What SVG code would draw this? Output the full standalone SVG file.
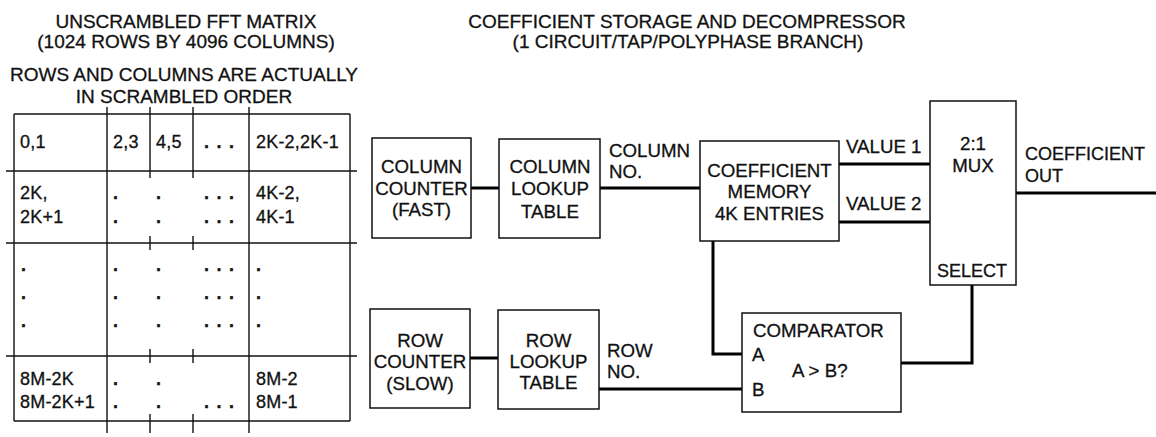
<svg xmlns="http://www.w3.org/2000/svg" width="1156" height="437" viewBox="0 0 1156 437">
  <style>
    text { font-family: "Liberation Sans", Arial, Helvetica, sans-serif; font-size: 18.7px; fill: #111; stroke: #111; stroke-width: 0.3; }
    .c { text-anchor: middle; }
    .head { font-size: 19px; }
    .tbl { font-size: 18px; letter-spacing: 0.2px; }
    .dot { font-size: 18px; font-weight: bold; }
    .dots { font-size: 18px; font-weight: bold; letter-spacing: 7.5px; }
    .sm { font-size: 18px; }
    .box { fill: #fff; stroke: #111; stroke-width: 1.5; }
    .grid line { stroke: #111; stroke-width: 1.4; }
    .wire { fill: none; stroke: #000; stroke-width: 3; stroke-linejoin: miter; }
  </style>
  <rect width="1156" height="437" fill="#fff"/>

  <!-- Left heading -->
  <g id="matrix-title">
    <text class="c head" x="186" y="28">UNSCRAMBLED FFT MATRIX</text>
    <text class="c head" x="186" y="48">(1024 ROWS BY 4096 COLUMNS)</text>
    <text class="c head" x="184" y="81">ROWS AND COLUMNS ARE ACTUALLY</text>
    <text class="c head" x="184" y="103">IN SCRAMBLED ORDER</text>
  </g>

  <!-- Scrambled FFT matrix grid -->
  <g id="matrix" class="grid">
    <!-- horizontal rules -->
    <line x1="14" y1="114" x2="350" y2="114"/>
    <line x1="6" y1="171" x2="357" y2="171"/>
    <line x1="6" y1="243" x2="357" y2="243"/>
    <line x1="6" y1="356" x2="357" y2="356"/>
    <line x1="14" y1="421" x2="350" y2="421"/>
    <!-- vertical rules -->
    <line x1="14" y1="114" x2="14" y2="421"/>
    <line x1="350" y1="114" x2="350" y2="421"/>
    <line x1="107" y1="107" x2="107" y2="433"/>
    <line x1="249" y1="107" x2="249" y2="433"/>
    <line x1="150" y1="107" x2="150" y2="178"/>
    <line x1="193" y1="107" x2="193" y2="178"/>
    <!-- tick marks where the inner columns cross the row rules -->
    <line x1="150" y1="236" x2="150" y2="250"/>
    <line x1="193" y1="236" x2="193" y2="250"/>
    <line x1="150" y1="349" x2="150" y2="363"/>
    <line x1="193" y1="349" x2="193" y2="363"/>
    <line x1="150" y1="414" x2="150" y2="433"/>
    <line x1="193" y1="414" x2="193" y2="433"/>
  </g>

  <g id="matrix-cells">
    <!-- row 1 -->
    <text class="tbl" x="20" y="148">0,1</text>
    <text class="tbl" x="113" y="148">2,3</text>
    <text class="tbl" x="156" y="148">4,5</text>
    <text class="dots" x="204" y="148">...</text>
    <text class="tbl" x="256" y="148">2K-2,2K-1</text>
    <!-- row 2 -->
    <text class="tbl" x="20" y="199">2K,</text>
    <text class="tbl" x="20" y="223">2K+1</text>
    <text class="dot" x="113" y="199">.</text>
    <text class="dot" x="113" y="223">.</text>
    <text class="dot" x="156" y="199">.</text>
    <text class="dot" x="156" y="223">.</text>
    <text class="dots" x="204" y="199">...</text>
    <text class="dots" x="204" y="223">...</text>
    <text class="tbl" x="256" y="199">4K-2,</text>
    <text class="tbl" x="256" y="223">4K-1</text>
    <!-- row 3 -->
    <text class="dot" x="21" y="271">.</text>
    <text class="dot" x="21" y="299">.</text>
    <text class="dot" x="21" y="327">.</text>
    <text class="dot" x="113" y="271">.</text>
    <text class="dot" x="113" y="299">.</text>
    <text class="dot" x="113" y="327">.</text>
    <text class="dot" x="156" y="271">.</text>
    <text class="dot" x="156" y="299">.</text>
    <text class="dot" x="156" y="327">.</text>
    <text class="dots" x="204" y="271">...</text>
    <text class="dots" x="204" y="299">...</text>
    <text class="dots" x="204" y="327">...</text>
    <text class="dot" x="256" y="271">.</text>
    <text class="dot" x="256" y="299">.</text>
    <text class="dot" x="256" y="327">.</text>
    <!-- row 4 -->
    <text class="tbl" x="20" y="385">8M-2K</text>
    <text class="tbl" x="20" y="408">8M-2K+1</text>
    <text class="dot" x="113" y="385">.</text>
    <text class="dot" x="113" y="408">.</text>
    <text class="dot" x="156" y="385">.</text>
    <text class="dot" x="156" y="408">.</text>
    <text class="dots" x="204" y="408">...</text>
    <text class="tbl" x="256" y="385">8M-2</text>
    <text class="tbl" x="256" y="408">8M-1</text>
  </g>

  <!-- Right heading -->
  <g id="circuit-title">
    <text class="c head" x="687" y="28">COEFFICIENT STORAGE AND DECOMPRESSOR</text>
    <text class="c head" x="688" y="48">(1 CIRCUIT/TAP/POLYPHASE BRANCH)</text>
  </g>

  <!-- Connectors -->
  <g id="connectors">
    <path class="wire" d="M471 188 H499"/>
    <path class="wire" d="M600 188 H700"/>
    <path class="wire" d="M839 164 H930"/>
    <path class="wire" d="M839 222 H930"/>
    <path class="wire" d="M1016 193 H1156"/>
    <path class="wire" d="M713 241 V354 H742"/>
    <path class="wire" d="M470 358 H498"/>
    <path class="wire" d="M599 389 H742"/>
    <path class="wire" d="M901 363 H972 V285"/>
    <text x="609" y="157">COLUMN</text>
    <text x="609" y="178">NO.</text>
    <text x="846" y="153">VALUE 1</text>
    <text x="846" y="210">VALUE 2</text>
    <text class="sm" x="1025" y="160">COEFFICIENT</text>
    <text class="sm" x="1025" y="182">OUT</text>
    <text x="607" y="357">ROW</text>
    <text x="607" y="378">NO.</text>
  </g>

  <!-- Blocks -->
  <g id="column-counter">
    <rect class="box" x="372" y="138" width="99" height="100"/>
    <text class="c" x="421.5" y="173">COLUMN</text>
    <text class="c" x="421.5" y="195">COUNTER</text>
    <text class="c" x="421.5" y="216">(FAST)</text>
  </g>
  <g id="column-lookup">
    <rect class="box" x="499" y="139" width="101" height="99"/>
    <text class="c" x="550" y="173">COLUMN</text>
    <text class="c" x="550" y="195">LOOKUP</text>
    <text class="c" x="550" y="218">TABLE</text>
  </g>
  <g id="coefficient-memory">
    <rect class="box" x="700" y="141" width="139" height="100"/>
    <text class="c" x="769.5" y="177">COEFFICIENT</text>
    <text class="c" x="769.5" y="198">MEMORY</text>
    <text class="c" x="769.5" y="220">4K ENTRIES</text>
  </g>
  <g id="mux">
    <rect class="box" x="930" y="101" width="86" height="184"/>
    <text class="c" x="973" y="150">2:1</text>
    <text class="c" x="973" y="172">MUX</text>
    <text class="c sm" x="972" y="277">SELECT</text>
  </g>
  <g id="row-counter">
    <rect class="box" x="370" y="309" width="100" height="99"/>
    <text class="c" x="420" y="347">ROW</text>
    <text class="c" x="420" y="368">COUNTER</text>
    <text class="c" x="420" y="390">(SLOW)</text>
  </g>
  <g id="row-lookup">
    <rect class="box" x="498" y="310" width="101" height="99"/>
    <text class="c" x="548.5" y="347">ROW</text>
    <text class="c" x="548.5" y="368">LOOKUP</text>
    <text class="c" x="548.5" y="389">TABLE</text>
  </g>
  <g id="comparator">
    <rect class="box" x="742" y="313" width="159" height="99"/>
    <text x="753" y="337">COMPARATOR</text>
    <text x="752" y="361">A</text>
    <text x="752" y="396">B</text>
    <text x="792" y="377">A &gt; B?</text>
  </g>
</svg>
